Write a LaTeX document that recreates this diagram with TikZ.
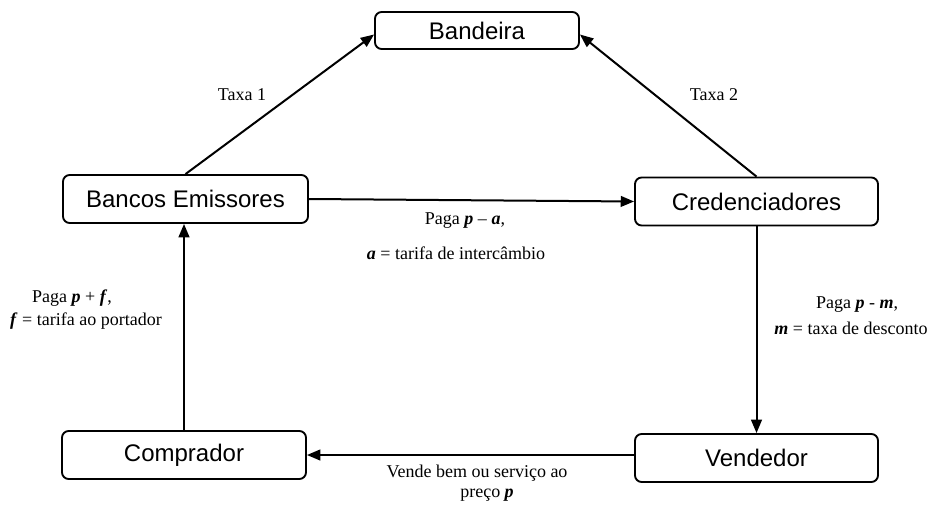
\documentclass[tikz,border=0pt]{standalone}
\usepackage{fontspec}
\setmainfont{Liberation Serif}
\newfontfamily\boxfont{Liberation Sans}
\usetikzlibrary{arrows.meta}
\newcommand{\vb}[1]{\textbf{\textit{#1}}}
\begin{document}
\begin{tikzpicture}[x=0.75pt,y=-0.75pt,
  entity/.style={draw,line width=1.4pt,rounded corners=5pt,inner sep=0pt,
    font=\boxfont\fontsize{18}{21}\selectfont,minimum height=36pt},
  conn/.style={line width=1.5pt,-{Triangle[length=10pt,width=8pt]}},
  lbl/.style={font=\fontsize{13.5}{16}\selectfont,inner sep=0pt}]
\useasboundingbox (0,0) rectangle (937,510);
\node[entity,minimum width=153pt,minimum height=27.75pt] (bandeira) at (477,30.5) {Bandeira};
\node[entity,minimum width=183.75pt] (bancos) at (185.5,199) {Bancos Emissores};
\node[entity,minimum width=182.25pt] (cred) at (756.5,201.5) {Credenciadores};
\node[entity,minimum width=183pt] (comprador) at (184,455) {Comprador};
\node[entity,minimum width=182.25pt] (vendedor) at (756.5,458) {Vendedor};

\draw[conn] (bancos.north) -- ([yshift=-3pt]bandeira.west);
\draw[conn] (cred.north) -- ([yshift=-3pt]bandeira.east);
\draw[conn] (bancos.east) -- (cred.west);
\draw[conn] (cred.south) -- (vendedor.north);
\draw[conn] (vendedor.west |- comprador.east) -- (comprador.east);
\draw[conn] (comprador.north) -- (comprador.north |- bancos.south);

\node[lbl] (t1) at (242,95) {Taxa 1};
\node[lbl] (t2) at (714,95) {Taxa 2};
\node[lbl] (pa1) at (465,221) {Paga \vb{p} -- \vb{a},};
\node[lbl] (pa2) at (456,253) {\vb{a} = tarifa de intercâmbio};
\node[lbl] (pf1) at (72,298) {Paga \vb{p} + \vb{f},};
\node[lbl] (pf2) at (86,321) {\vb{f} = tarifa ao portador};
\node[lbl] (pm1) at (857,305) {Paga \vb{p} - \vb{m},};
\node[lbl] (pm2) at (851,328) {\vb{m} = taxa de desconto};
\node[lbl] (v1) at (477,473) {Vende bem ou serviço ao};
\node[lbl] (v2) at (487,495) {preço \vb{p}};
\end{tikzpicture}
\end{document}
